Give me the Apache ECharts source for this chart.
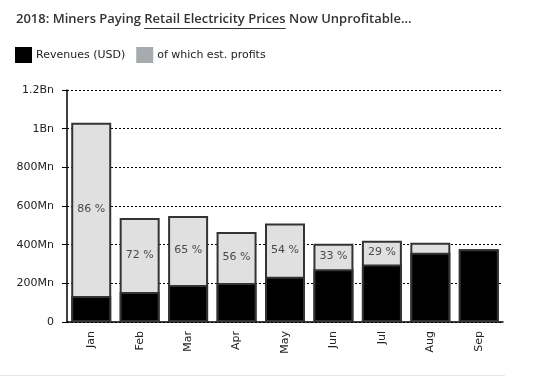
<!DOCTYPE html>
<html><head><meta charset="utf-8">
<script src="https://cdn.jsdelivr.net/npm/echarts@6/dist/echarts.min.js"></script>
<style>html,body{margin:0;padding:0;background:#fff}#c{width:540px;height:391px}</style>
</head><body><div id="c"></div>
<script>
const months = ['Jan','Feb','Mar','Apr','May','Jun','Jul','Aug','Sep'];
const revenues = [1030, 538, 548, 466, 510, 405, 420, 410, 376]; // Mn USD, total bar
const costs = [135, 155, 191, 202, 234, 273, 298, 358, 376];     // Mn USD, black part
const profitPct = [86, 72, 65, 56, 54, 33, 29, null, null];
const yTicks = ['0','200Mn','400Mn','600Mn','800Mn','1Bn','1.2Bn'];

const titleFont = '600 13px "Open Sans"';
const tPre = '2018: Miners Paying ', tU = 'Retail Electricity Prices', tPost = ' Now Unprofitable...';
const cv = document.createElement('canvas').getContext('2d');
cv.font = titleFont;
const preW = cv.measureText(tPre).width, uW = cv.measureText(tU).width;
const titleX = 16;

const chart = echarts.init(document.getElementById('c'));
const textFont = 'Verdana, "DejaVu Sans", sans-serif';
chart.setOption({
  animation: false,
  title: {
    text: '{a|' + tPre + '}{a|' + tU + '}{a|' + tPost + '}',
    left: titleX, top: 13, padding: 0,
    textStyle: { rich: { a: { fontFamily: '"Open Sans"', fontWeight: 600, fontSize: 13, color: '#333' } } }
  },
  legend: {
    left: 15, top: 47, padding: 0, itemWidth: 17, itemHeight: 16, itemGap: 11,
    icon: 'rect',
    textStyle: { fontFamily: textFont, fontSize: 11, color: '#222', padding: [0,0,0,-1] },
    data: [
      { name: 'Revenues (USD)', itemStyle: { color: '#000', borderWidth: 0 } },
      { name: 'of which est. profits', itemStyle: { color: '#a8abad', borderWidth: 0 } }
    ]
  },
  grid: { left: 67, right: 37, top: 90, bottom: 69 },
  xAxis: {
    type: 'category', data: months,
    axisLine: { lineStyle: { color: '#000', width: 1.5 } },
    axisTick: { show: false },
    axisLabel: { rotate: 90, margin: 9, fontFamily: textFont, fontSize: 11, color: '#222' }
  },
  yAxis: {
    type: 'value', min: 0, max: 1200, interval: 200,
    axisLine: { show: true, lineStyle: { color: '#000', width: 1.5 } },
    axisTick: { show: true, length: 5, lineStyle: { color: '#000' } },
    axisLabel: { margin: 13, fontFamily: textFont, fontSize: 11, color: '#222',
      formatter: (v) => yTicks[Math.round(v / 200)] },
    splitLine: { lineStyle: { color: '#000', type: [2, 2], width: 1 } }
  },
  series: [
    {
      name: 'of which est. profits', type: 'bar', data: revenues, barWidth: 40, z: 2,
      itemStyle: { color: '#e0e0e0', borderColor: '#333', borderWidth: 2 },
      label: { show: false }
    },
    {
      name: 'Revenues (USD)', type: 'bar', data: costs, barWidth: 40, barGap: '-100%', z: 3,
      itemStyle: { color: '#000', borderColor: '#333', borderWidth: 2 }
    },
    {
      name: 'pctLabel', type: 'scatter', symbolSize: 0, z: 4, silent: true,
      data: months.map((m, i) => profitPct[i] == null ? null : [i, (revenues[i] + costs[i]) / 2]),
      label: { show: true, position: 'inside', fontFamily: textFont, fontSize: 11, color: '#222',
        formatter: (p) => profitPct[p.dataIndex] + ' %' }
    }
  ],
  graphic: [
    { type: 'line', silent: true, shape: { x1: titleX + preW, y1: 28.5, x2: titleX + preW + uW, y2: 28.5 },
      style: { stroke: '#333', lineWidth: 1 } },
    { type: 'line', silent: true, shape: { x1: 0, y1: 375.5, x2: 505, y2: 375.5 },
      style: { stroke: '#e6e6e6', lineWidth: 1 } }
  ]
});
</script></body></html>
